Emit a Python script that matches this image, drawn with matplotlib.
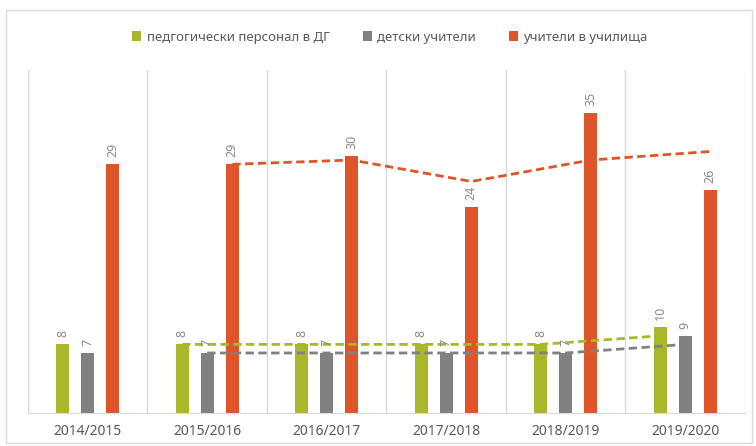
import pandas as pd
import matplotlib.pyplot as plt
from matplotlib.patches import Rectangle

# Данни
years = ['2014/2015', '2015/2016', '2016/2017', '2017/2018', '2018/2019', '2019/2020']
series_names = ['педгогически персонал в ДГ', 'детски учители', 'учители в училища']
pedagog = [8, 8, 8, 8, 8, 10]
detski = [7, 7, 7, 7, 7, 9]
uchilishta = [29, 29, 30, 24, 35, 26]
colors = ['#A8B82A', '#808080', '#E0542A']

plt.rcParams['font.family'] = ['Noto Sans', 'DejaVu Sans']

fig = plt.figure(figsize=(7.56, 4.46), dpi=100)
ax = fig.add_axes([28 / 756, 33 / 446, 717 / 756, 343 / 446])

# рамка около цялата диаграма
fig.patches.append(Rectangle((6 / 756, 3 / 446), 746 / 756, 433 / 446,
                             transform=fig.transFigure, fill=False,
                             edgecolor='#D9D9D9', linewidth=1))

x = list(range(len(years)))
offsets = [-0.21, 0.0, 0.21]
width = 0.11

for vals, name, col, off in zip([pedagog, detski, uchilishta], series_names, colors, offsets):
    xs = [i + off for i in x]
    ax.bar(xs, vals, width=width, color=col, label=name, zorder=2)
    for xi, v in zip(xs, vals):
        ax.annotate(str(v), (xi, v), xytext=(0, 5), textcoords='offset points',
                    rotation=90, ha='center', va='bottom', fontsize=9, color='#8C8C8C')
    # плъзгаща средна (2 периода)
    trend = pd.Series(vals).rolling(2).mean()
    ax.plot(xs[1:], trend[1:], linestyle=(0, (3, 1.6)), color=col, linewidth=2, zorder=3)

ax.set_xlim(-0.5, len(years) - 0.5)
ax.set_ylim(0, 40)
ax.set_xticks(x)
ax.set_xticklabels(years, fontsize=10, color='#595959')
ax.tick_params(axis='x', length=0, pad=8)
ax.set_yticks([])

# вертикални линии между категориите
for b in range(len(years) + 1):
    ax.axvline(b - 0.5, color='#D9D9D9', linewidth=1, zorder=0)

for s in ['top', 'right', 'left']:
    ax.spines[s].set_visible(False)
ax.spines['bottom'].set_color('#D9D9D9')

fig.legend(loc='center', bbox_to_anchor=(390 / 756, 1 - 37 / 446), ncol=3, frameon=False,
           fontsize=9.5, labelcolor='#595959', handlelength=0.7, handleheight=0.7,
           handletextpad=0.4, columnspacing=2.5)

plt.savefig('out.png', dpi=100)
